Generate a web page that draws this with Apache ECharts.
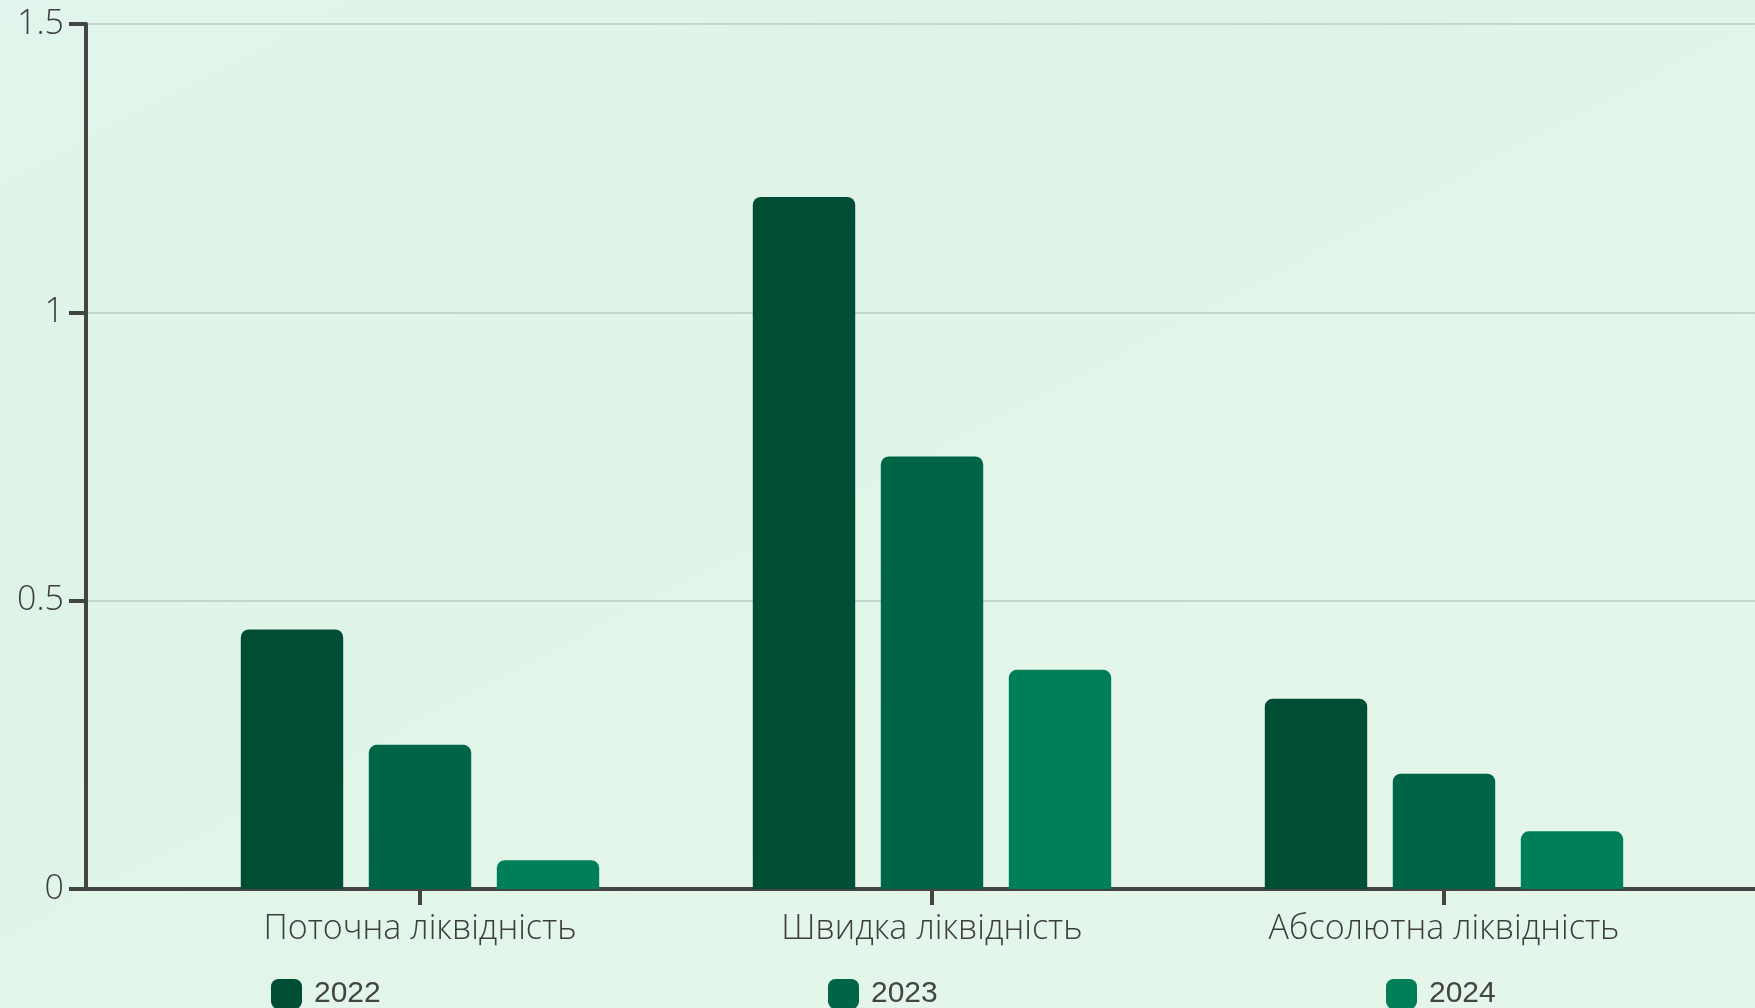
<!DOCTYPE html>
<html>
<head>
<meta charset="utf-8">
<script src="https://cdn.jsdelivr.net/npm/echarts@6/dist/echarts.min.js"></script>
<style>
html,body{margin:0;padding:0;width:100%;height:100%;overflow:hidden;}
#chart{width:1755px;height:1008px;}
</style>
</head>
<body>
<div id="chart"></div>
<script>
var categories = ['Поточна ліквідність', 'Швидка ліквідність', 'Абсолютна ліквідність'];
var seriesNames = ['2022', '2023', '2024'];
var values2022 = [0.45, 1.2, 0.33];
var values2023 = [0.25, 0.75, 0.2];
var values2024 = [0.05, 0.38, 0.1];
var yTicks = [0, 0.5, 1, 1.5];
var colors = ['#004d35', '#006546', '#007e57'];

var chart = echarts.init(document.getElementById('chart'));
var axisColor = '#444444';
var labelColor = '#3d3d3d';
var seriesData = [values2022, values2023, values2024];
var legendLefts = [266, 823, 1381];

var option = {
  animation: false,
  backgroundColor: {
    type: 'linear', x: 0, y: 0, x2: 0.3, y2: 1,
    colorStops: [
      {offset: 0, color: '#e2f5ec'},
      {offset: 0.5, color: '#dff3e8'},
      {offset: 1, color: '#e3f6e9'}
    ]
  },
  grid: [
    {left: 86, right: -10, top: 24, bottom: 119, containLabel: false},
    {left: 164, right: 55, top: 24, bottom: 119, containLabel: false}
  ],
  xAxis: [
    {
      gridIndex: 0, type: 'value', min: 0, max: 1,
      axisLine: {show: true, lineStyle: {color: axisColor, width: 4}},
      axisTick: {show: false}, axisLabel: {show: false}, splitLine: {show: false}
    },
    {
      gridIndex: 1, type: 'category', data: categories,
      axisLine: {show: false},
      axisTick: {show: true, alignWithLabel: true, length: 16, lineStyle: {color: axisColor, width: 4}},
      axisLabel: {show: true, color: labelColor, fontSize: 34, fontFamily: 'Open Sans', fontWeight: 300, margin: 23},
      splitLine: {show: false}
    }
  ],
  yAxis: [
    {
      gridIndex: 0, type: 'value', min: yTicks[0], max: yTicks[yTicks.length - 1], interval: 0.5,
      axisLine: {show: true, lineStyle: {color: axisColor, width: 4}},
      axisTick: {show: true, length: 17, lineStyle: {color: axisColor, width: 4}},
      axisLabel: {show: true, color: labelColor, fontSize: 34, fontFamily: 'Open Sans', fontWeight: 300, margin: 22},
      splitLine: {show: true, lineStyle: {color: '#c3d8cd', width: 2}}
    },
    {
      gridIndex: 1, type: 'value', min: yTicks[0], max: yTicks[yTicks.length - 1], interval: 0.5,
      axisLine: {show: false}, axisTick: {show: false}, axisLabel: {show: false}, splitLine: {show: false}
    }
  ],
  legend: seriesNames.map(function (n, i) {
    return {
      data: [n], left: legendLefts[i], top: 974,
      icon: 'roundRect', itemWidth: 31, itemHeight: 30, itemGap: 10,
      selectedMode: false,
      textStyle: {color: axisColor, fontSize: 30, fontFamily: 'Liberation Sans', padding: [0, 0, 0, 7]}
    };
  }),
  series: seriesNames.map(function (n, i) {
    return {
      name: n, type: 'bar', xAxisIndex: 1, yAxisIndex: 1,
      data: seriesData[i],
      barCategoryGap: '30%', barGap: '25%',
      itemStyle: {color: colors[i], borderRadius: [8, 8, 0, 0]},
      emphasis: {disabled: true}
    };
  })
};
chart.setOption(option);
</script>
</body>
</html>
